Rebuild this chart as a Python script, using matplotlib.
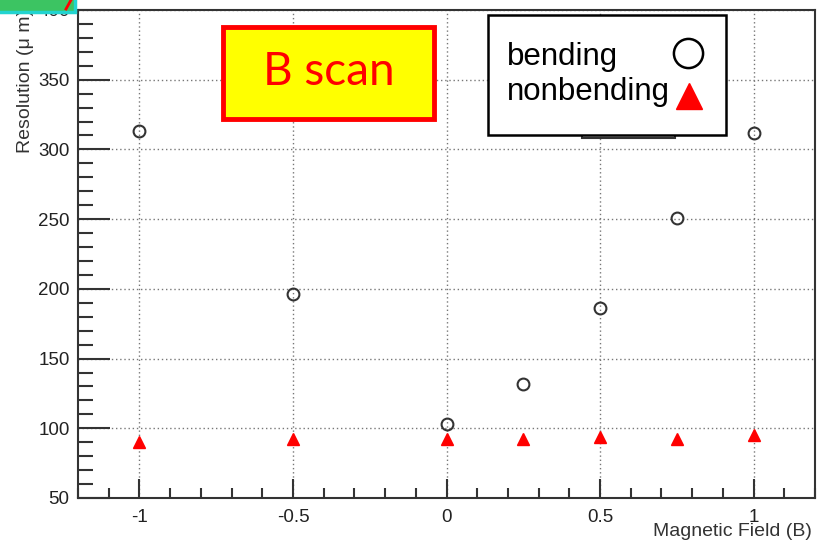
import numpy as np
import matplotlib
matplotlib.use("Agg")
import matplotlib.pyplot as plt
from matplotlib.patches import Rectangle
from matplotlib.ticker import MultipleLocator

# B field scan, resolution per plane
field = [-1.0, -0.5, 0.0, 0.25, 0.5, 0.75, 1.0]
bending = [313, 196, 103, 132, 186, 251, 312]
nonbending = [90, 92, 92, 92, 93.5, 92, 95]
xtick_pos = [-1, -0.5, 0, 0.5, 1]
xtick_txt = ["-1", "-0.5", "0", "0.5", "1"]

W, H = 817, 542
fig = plt.figure(figsize=(W / 100, H / 100), dpi=100)
fig.patch.set_facecolor("white")
plt.rcParams["font.family"] = ["Liberation Sans", "DejaVu Sans"]


def fx(px):
    return px / W


def fy(py):
    return 1 - py / H


ax = fig.add_axes([fx(78), fy(498), fx(815) - fx(78), fy(10) - fy(498)])
ax.set_xlim(-1.2, 1.2)
ax.set_ylim(50, 400)

for s in ax.spines.values():
    s.set_color("#333333")
    s.set_linewidth(1.5)

ax.xaxis.set_major_locator(MultipleLocator(0.5))
ax.xaxis.set_minor_locator(MultipleLocator(0.1))
ax.yaxis.set_major_locator(MultipleLocator(50))
ax.yaxis.set_minor_locator(MultipleLocator(10))
ax.tick_params(axis="both", which="both", direction="in", color="#333333", width=1.5,
               labelsize=13.5, labelcolor="#222222")
ax.tick_params(axis="x", which="major", length=14, pad=8)
ax.tick_params(axis="x", which="minor", length=7)
ax.tick_params(axis="y", which="major", length=23, pad=6)
ax.tick_params(axis="y", which="minor", length=11)
ax.set_xticks(xtick_pos)
ax.set_xticklabels(xtick_txt)
ax.grid(True, which="major", linestyle=(0, (1, 2)), color="#777777", linewidth=1)
ax.set_axisbelow(True)

ax.plot(field, bending, linestyle="none", marker="o", ms=8.5, mfc="none",
        mec="#333333", mew=1.5, zorder=3)
ax.plot(field, nonbending, linestyle="none", marker="^", ms=8, mfc="red",
        mec="red", zorder=3)

fig.text(fx(812), fy(532), "Magnetic Field (B)", ha="right", va="center",
         fontsize=14, color="#333333")
fig.text(fx(25), fy(153), "Resolution (\u03bc m)", ha="center", va="bottom", rotation=90,
         fontsize=14, color="#333333")

# clipped title box in the corner
fig.patches.append(Rectangle((fx(-5), fy(12)), fx(80), fy(-5) - fy(12),
                             transform=fig.transFigure, facecolor="#3cc462",
                             edgecolor="#22d4d0", linewidth=2.5, zorder=5))
fig.lines.append(plt.Line2D([fx(66), fx(71)], [fy(9), fy(0)], transform=fig.transFigure,
                            color="red", linewidth=2, zorder=6))

# stats box stub behind the legend
fig.patches.append(Rectangle((fx(582), fy(138)), fx(675) - fx(582), fy(120) - fy(138),
                             transform=fig.transFigure, facecolor="white",
                             edgecolor="#333333", linewidth=1.5, zorder=5))

# legend
fig.patches.append(Rectangle((fx(488), fy(135)), fx(726) - fx(488), fy(15) - fy(135),
                             transform=fig.transFigure, facecolor="white",
                             edgecolor="black", linewidth=1.8, zorder=6))
fig.text(fx(507), fy(65), "bending", ha="left", va="baseline", fontsize=22.5,
         zorder=7)
fig.text(fx(507), fy(100), "nonbending", ha="left", va="baseline", fontsize=22.5,
         zorder=7)
fig.lines.append(plt.Line2D([fx(688)], [fy(53)], transform=fig.transFigure, marker="o",
                            ms=21, mfc="none", mec="black", mew=1.8, zorder=7))
fig.lines.append(plt.Line2D([fx(689)], [fy(96)], transform=fig.transFigure, marker="^",
                            ms=19, mfc="red", mec="red", zorder=7))

# B scan label
fig.patches.append(Rectangle((fx(223), fy(119)), fx(434) - fx(223), fy(27) - fy(119),
                             transform=fig.transFigure, facecolor="#ffff00",
                             edgecolor="#ff0000", linewidth=3.5, zorder=6))
fig.text(fx(329), fy(72), "B scan", ha="center", va="center", fontsize=33,
         color="#ff0000", family="Lato", zorder=7)

fig.savefig("out.png", dpi=100)
